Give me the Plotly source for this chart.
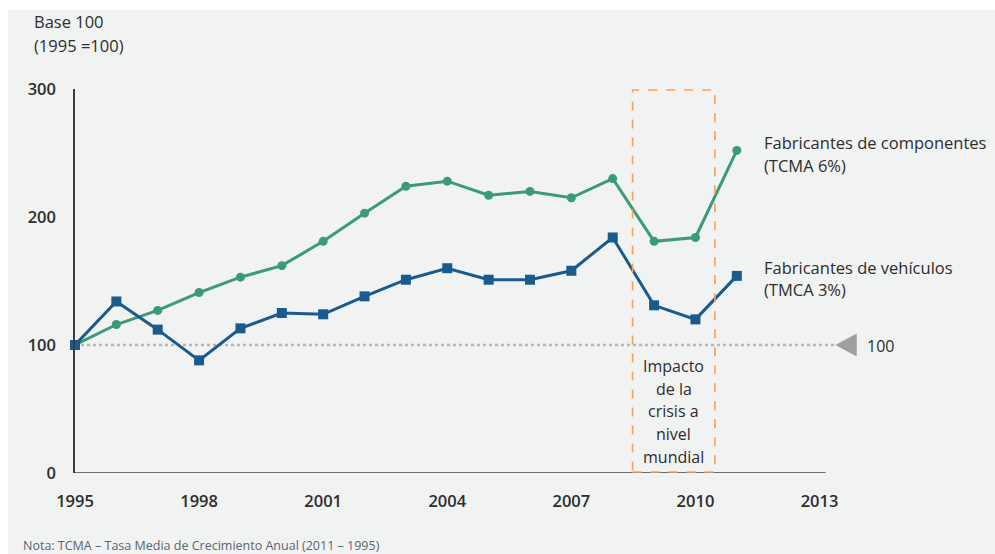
import plotly.graph_objects as go

# Index values, base 1995 = 100
years = list(range(1995, 2012))
componentes = [100, 116, 127, 141, 153, 162, 181, 203, 224, 228, 217, 220, 215, 230, 181, 184, 252]
vehiculos = [100, 134, 112, 88, 113, 125, 124, 138, 151, 160, 151, 151, 158, 184, 131, 120, 154]

x_ticks = [1995, 1998, 2001, 2004, 2007, 2010, 2013]
y_ticks = [0, 100, 200, 300]

crisis_start, crisis_end = 2008.48, 2010.47
crisis_lines = ["Impacto", "de la", "crisis a", "nivel", "mundial"]

GREEN = "#3a9a79"
BLUE = "#1a5a8d"
TEXT = "#2d2d2d"
BG = "#f1f2f2"
FONT = "Open Sans"

W, H = 995, 554
ML, MR, MT, MB = 75, 10, 89, 81
X0, X1 = 1995, 2017

fig = go.Figure()

fig.add_trace(go.Scatter(
    x=years, y=componentes, mode="lines+markers",
    line=dict(color=GREEN, width=3),
    marker=dict(symbol="circle", size=9, color=GREEN),
    cliponaxis=False, showlegend=False, name="Fabricantes de componentes",
))
fig.add_trace(go.Scatter(
    x=years, y=vehiculos, mode="lines+markers",
    line=dict(color=BLUE, width=3),
    marker=dict(symbol="square", size=10, color=BLUE),
    cliponaxis=False, showlegend=False, name="Fabricantes de vehículos",
))

shapes = []
# Base line at 100
shapes.append(dict(type="line", xref="x", yref="y", x0=1995, x1=2013.35, y0=100, y1=100,
                   line=dict(color="#b5b7b8", width=2.5, dash="dot"), layer="below"))
# Arrow marker at the end of the base line
shapes.append(dict(type="path", xref="x", yref="y",
                   path="M 2013.38,100 L 2013.9,109 L 2013.9,91 Z",
                   fillcolor="#9d9fa1", line=dict(width=0)))
# Horizontal axis line
shapes.append(dict(type="line", xref="x", yref="y", x0=1995, x1=2013.15, y0=0, y1=0,
                   line=dict(color="#6d6e70", width=2)))
# Crisis box
shapes.append(dict(type="rect", xref="x", yref="y", x0=crisis_start, x1=crisis_end, y0=0.8, y1=299.2,
                   line=dict(color="#f7a258", width=1.6, dash="dash"), fillcolor="rgba(0,0,0,0)"))

# White page border at top and left
def px_to_paper_x(p):
    return (p - ML) / (W - ML - MR)

def py_to_paper_y(p):
    return (H - MB - p) / (H - MT - MB)

shapes.append(dict(type="rect", xref="paper", yref="paper",
                   x0=px_to_paper_x(-2), x1=px_to_paper_x(W + 2),
                   y0=py_to_paper_y(10), y1=py_to_paper_y(-2),
                   fillcolor="white", line=dict(width=0), layer="below"))
shapes.append(dict(type="rect", xref="paper", yref="paper",
                   x0=px_to_paper_x(-2), x1=px_to_paper_x(8),
                   y0=py_to_paper_y(H + 2), y1=py_to_paper_y(-2),
                   fillcolor="white", line=dict(width=0), layer="below"))

annotations = []

def label(x, y, text, size=16, xanchor="left", xref="x", yref="y", color=TEXT):
    annotations.append(dict(x=x, y=y, xref=xref, yref=yref, text=text, showarrow=False,
                            xanchor=xanchor, yanchor="middle",
                            font=dict(family=FONT, size=size, color=color)))

label(2011.6, 258.5, "Fabricantes de componentes", size=16.5)
label(2011.6, 240.5, "(TCMA 6%)", size=16.5)
label(2011.6, 160.5, "Fabricantes de vehículos", size=16.5)
label(2011.6, 143.0, "(TMCA 3%)", size=16.5)
label(2014.1, 99.5, "100", size=16)

crisis_mid = (crisis_start + crisis_end) / 2
for i, line in enumerate(crisis_lines):
    label(crisis_mid, (473 - (366 + i * 22.7)) / 1.28, line, size=16, xanchor="center")

label(px_to_paper_x(32), py_to_paper_y(22), "Base 100", size=16.5, xref="paper", yref="paper")
label(px_to_paper_x(32), py_to_paper_y(46), "(1995 =100)", size=16.5, xref="paper", yref="paper")
label(px_to_paper_x(21), py_to_paper_y(545),
      "Nota: TCMA – Tasa Media de Crecimiento Anual (2011 – 1995)",
      size=12.5, xref="paper", yref="paper", color="#5a6470")

fig.update_layout(
    width=W, height=H,
    margin=dict(l=ML, r=MR, t=MT, b=MB),
    paper_bgcolor=BG, plot_bgcolor=BG,
    font=dict(family=FONT, color=TEXT),
    shapes=shapes, annotations=annotations,
    xaxis=dict(range=[X0, X1], tickvals=x_ticks, ticktext=[str(v) for v in x_ticks],
               showgrid=False, zeroline=False, showline=False,
               ticks="outside", ticklen=13, tickcolor="rgba(0,0,0,0)",
               tickfont=dict(family=FONT, size=16.5, color=TEXT, weight=600)),
    yaxis=dict(range=[0, 300], tickvals=y_ticks, showgrid=False, zeroline=False,
               showline=True, linecolor="#3c3c3c", linewidth=1.5,
               ticks="outside", ticklen=14, tickcolor="rgba(0,0,0,0)",
               tickfont=dict(family=FONT, size=16.5, color=TEXT, weight=600)),
)

fig.write_html("out.html")
